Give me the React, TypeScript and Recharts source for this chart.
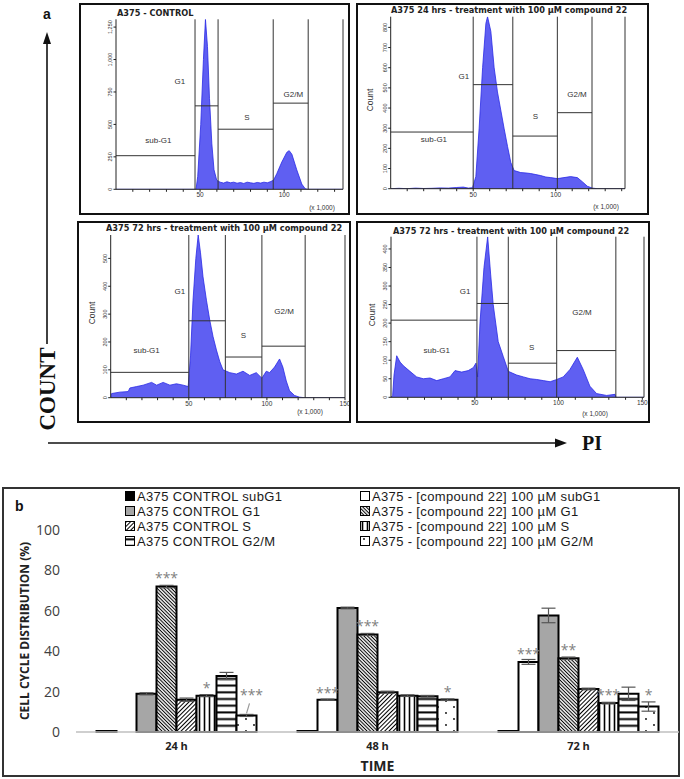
import {
  AreaChart, Area, XAxis, YAxis, ReferenceLine, ReferenceDot,
  BarChart, Bar, ErrorBar, LabelList,
} from 'recharts'

// ---------- panel a : PI histograms (x 1,000 vs count) ----------
const gateNames = ['sub-G1', 'G1', 'S', 'G2/M']
const xMinorTicks = [10, 20, 30, 40, 50, 60, 70, 80, 90, 100, 110, 120, 130, 140, 150]

// A375 control
const ctrlX = [0, 45, 47.6, 48.6, 50.4, 52, 53.2, 54.4, 55.6, 57, 58.3, 59.9, 61.9, 64, 66, 68, 70, 72, 74, 76, 78, 80, 82, 84, 86, 88, 90, 91.7, 93.7, 95.6, 98.6, 101.6, 103, 104.6, 107.5, 110.5, 112.5, 113.9, 135]
const ctrlCount = [0, 0, 0, 100, 500, 1000, 1310, 1100, 700, 350, 150, 70, 55, 48, 58, 50, 55, 47, 52, 45, 55, 50, 46, 53, 48, 55, 50, 58, 70, 120, 210, 285, 298, 270, 150, 40, 5, 0, 0]
const ctrlYTicks = [0, 250, 500, 750, 1000, 1250]
const ctrlGates = [47, 60.7, 93.5, 114.3]
const ctrlLevels = [259, 643, 463, 664]

// 24 hrs treatment
const h24X = [0, 5, 10, 15, 20, 25, 30, 35, 40, 44, 47, 49.6, 51.6, 53.6, 55.7, 57.7, 58.7, 60.7, 62.7, 64.7, 66.7, 68.7, 70.8, 72.8, 74.8, 78.8, 82, 84.9, 88, 90.9, 94, 97, 101, 105, 109, 113.1, 116.1, 119.2, 122.2, 125.2, 142]
const h24Count = [0, 2, 0, 3, 1, 2, 4, 3, 6, 8, 3, 5, 60, 300, 600, 820, 853, 780, 600, 480, 390, 300, 210, 130, 90, 80, 78, 75, 70, 65, 58, 55, 50, 55, 60, 55, 35, 12, 3, 0, 0]
const h24YTicks = [0, 100, 200, 300, 400, 500, 600, 700, 800]
const h24Gates = [50, 74, 101, 122]
const h24Levels = [281, 516, 261, 377]

// 72 hrs treatment (left)
const h72aX = [0, 0.6, 5.9, 11.2, 12.3, 16.6, 20.8, 26.2, 29.4, 33.6, 37.9, 42.1, 46.4, 49.6, 51.1, 52.7, 54.5, 56, 57.5, 59.1, 61.3, 63.4, 65.5, 67.7, 69.8, 71.9, 76.2, 80.5, 84.7, 89, 93.2, 96.8, 99.6, 101.7, 104.9, 108.1, 110.2, 112.4, 114.5, 117.7, 120.9, 124.1, 152]
const h72aCount = [0, 15, 20, 22, 35, 40, 45, 55, 45, 55, 45, 50, 45, 40, 150, 350, 500, 584, 520, 434, 350, 279, 220, 171, 130, 100, 90, 85, 95, 80, 90, 70, 95, 90, 110, 139, 110, 60, 25, 8, 2, 0, 0]
const h72aYTicks = [0, 100, 200, 300, 400, 500]
const h72aGates = [50, 73.4, 96.8, 124.5]
const h72aLevels = [91, 276, 146, 185]

// 72 hrs treatment (right)
const h72bX = [0, 1, 1.8, 3.4, 5.4, 7.4, 11.3, 15.3, 19.3, 23.3, 27.3, 31.2, 35.2, 38.2, 42.2, 46.1, 49.1, 50.7, 51.7, 53.1, 55.5, 57.7, 59.5, 61, 64, 67, 70, 75, 79, 83, 87, 90.9, 95, 98.9, 102.8, 106.8, 111.2, 114.7, 118.7, 122.7, 128.7, 133.7, 134.2, 151]
const h72bCount = [0, 5, 60, 112, 95, 85, 70, 55, 50, 52, 45, 50, 55, 72, 68, 72, 80, 92, 55, 200, 350, 433, 330, 250, 150, 110, 70, 60, 55, 50, 48, 45, 42, 48, 55, 75, 108, 75, 30, 10, 5, 8, 0, 0]
const h72bYTicks = [0, 50, 100, 150, 200, 250, 300, 350, 400]
const h72bGates = [51.3, 70, 98.9, 134.2]
const h72bLevels = [208, 253, 92, 126]

// ---------- panel b : cell cycle distribution (%) ----------
const times = ['24 h', '48 h', '72 h']
const yTicksB = [0, 20, 40, 60, 80, 100]

const ctrlSub = [0.5, 0.5, 0.5]
const trtSub = [0, 16, 34.7]
const ctrlG1 = [18.9, 61.4, 57.7]
const trtG1 = [72, 48.3, 36.5]
const ctrlS = [16, 19.7, 21.3]
const trtS = [18, 18, 14.3]
const ctrlG2M = [27.7, 17.7, 18.9]
const trtG2M = [8.2, 16, 12.6]

const ctrlSubErr = [0, 0, 0]
const trtSubErr = [0, 0.3, 1.2]
const ctrlG1Err = [0.5, 0.4, 3.6]
const trtG1Err = [0.6, 0.5, 0.6]
const ctrlSErr = [0.8, 0.5, 0.4]
const trtSErr = [0.5, 0.4, 0.4]
const ctrlG2MErr = [1.8, 0.4, 3.3]
const trtG2MErr = [0.5, 0.4, 2.3]

const trtSubStars = ['', '***', '***']
const trtG1Stars = ['***', '***', '**']
const trtSStars = ['*', '', '***']
const trtG2MStars = ['***', '*', '*']

const ctrlNames = ['A375 CONTROL subG1', 'A375 CONTROL G1', 'A375 CONTROL S', 'A375 CONTROL G2/M']
const trtNames = [
  'A375 - [compound 22] 100 µM subG1',
  'A375 - [compound 22] 100 µM G1',
  'A375 - [compound 22] 100 µM S',
  'A375 - [compound 22] 100 µM G2/M',
]

const panels = [
  {
    xs: ctrlX, counts: ctrlCount, yTicks: ctrlYTicks, gates: ctrlGates, levels: ctrlLevels,
    labelPos: [[25.2, 380], [38, 830], [77.8, 556], [105.5, 733]],
    xMax: 135, yMax: 1310,
    box: { x: 79, y: 3, w: 271, h: 212 }, plot: { l: 116, t: 19.3, r: 343, b: 189.3 },
    title: 'A375 - CONTROL', titleAt: [117, 13], titleStart: true,
    countAt: null, unitAt: [322, 208],
  },
  {
    xs: h24X, counts: h24Count, yTicks: h24YTicks, gates: h24Gates, levels: h24Levels,
    labelPos: [[26.2, 246], [44.3, 559], [87.7, 360], [112.9, 469]],
    xMax: 142, yMax: 853,
    box: { x: 356, y: 3, w: 293, h: 212 }, plot: { l: 390.7, t: 16.7, r: 625, b: 188.7 },
    title: 'A375 24 hrs - treatment with 100 µM compound 22', titleAt: [509, 9.5], titleStart: false,
    countAt: [370, 100], unitAt: [606, 207],
  },
  {
    xs: h72aX, counts: h72aCount, yTicks: h72aYTicks, gates: h72aGates, levels: h72aLevels,
    labelPos: [[23, 171], [44.3, 383], [85, 226], [111, 309]],
    xMax: 150, yMax: 584,
    box: { x: 77, y: 221, w: 274, h: 202 }, plot: { l: 110.7, t: 235, r: 345, b: 397.7 },
    title: 'A375 72 hrs - treatment with 100 µM compound 22', titleAt: [224, 227.5], titleStart: false,
    countAt: [92, 313], unitAt: [310, 412],
  },
  {
    xs: h72bX, counts: h72bCount, yTicks: h72bYTicks, gates: h72bGates, levels: h72bLevels,
    labelPos: [[27.3, 128], [44.2, 285], [84, 134], [114, 229]],
    xMax: 151, yMax: 433,
    box: { x: 356, y: 221, w: 294, h: 202 }, plot: { l: 391, t: 236.7, r: 644, b: 397.3 },
    title: 'A375 72 hrs - treatment with 100 µM compound 22', titleAt: [511, 230.5], titleStart: false,
    countAt: [372, 315], unitAt: [595, 414],
  },
]

function fmtCount(v: number) {
  if (v >= 1000) return `${Math.floor(v / 1000)},${String(v % 1000).padStart(3, '0')}`
  return String(v)
}

const RotTick = (props: any) => {
  const { x, y, payload } = props
  const tx = x - 0.5
  return (
    <text x={tx} y={y} transform={`rotate(-90 ${tx} ${y})`} textAnchor="middle" fontSize={5.5} fill="#333" fontFamily="Liberation Sans">
      {fmtCount(payload.value)}
    </text>
  )
}

function Histogram({ cfg }: { cfg: any }) {
  const { box, plot } = cfg
  const data = cfg.xs.map((x: number, i: number) => ({ x, count: cfg.counts[i] }))
  const yW = 20
  const xH = 14
  const margin = {
    left: plot.l - box.x - yW,
    top: plot.t - box.y,
    right: box.x + box.w - plot.r,
    bottom: box.y + box.h - plot.b - xH,
  }
  const small = { position: 'absolute' as const, fontFamily: 'Liberation Sans', color: '#333', whiteSpace: 'nowrap' as const, lineHeight: 1 }
  return (
    <>
      <div style={{ position: 'absolute', left: box.x, top: box.y }}>
        <AreaChart width={box.w} height={box.h} data={data} margin={margin}>
          <XAxis
            dataKey="x" type="number" domain={[0, cfg.xMax]} allowDataOverflow
            ticks={xMinorTicks.filter((t) => t <= cfg.xMax)} interval={0}
            tickFormatter={(v: number) => (v % 50 === 0 ? String(v) : '')}
            height={xH} tickSize={2.5} tickMargin={1} stroke="#222"
            tick={{ fontSize: 6.5, fill: '#333', fontFamily: 'Liberation Sans' }}
          />
          <YAxis
            type="number" domain={[0, cfg.yMax]} allowDataOverflow ticks={cfg.yTicks} interval={0}
            width={yW} tickSize={2.5} tickMargin={1} stroke="#222" tick={<RotTick />}
          />
          <Area type="linear" dataKey="count" stroke="#2a2ae6" strokeWidth={0.8} fill="#5f5ff2" fillOpacity={1} isAnimationActive={false} dot={false} activeDot={false} />
          {cfg.gates.map((g: number) => (
            <ReferenceLine key={`g${g}`} x={g} stroke="#333" strokeWidth={1} />
          ))}
          <ReferenceLine x={cfg.xMax} stroke="#333" strokeWidth={1} />
          {cfg.levels.map((lv: number, i: number) => (
            <ReferenceLine
              key={`l${i}`}
              segment={[{ x: i === 0 ? 0 : cfg.gates[i - 1], y: lv }, { x: cfg.gates[i], y: lv }]}
              stroke="#333" strokeWidth={1}
            />
          ))}
          {cfg.labelPos.map((p: number[], i: number) => (
            <ReferenceDot
              key={`n${i}`} x={p[0]} y={p[1]} r={1} fill="none" stroke="none"
              label={{ value: gateNames[i], position: 'center', fontSize: 8, fill: '#333', fontFamily: 'Liberation Sans' }}
            />
          ))}
        </AreaChart>
      </div>
      <div style={{ position: 'absolute', left: box.x, top: box.y, width: box.w, height: box.h, border: '2.5px solid #111', boxSizing: 'border-box' }} />
      <div
        style={{
          ...small, left: cfg.titleAt[0], top: cfg.titleAt[1], color: '#222',
          transform: cfg.titleStart ? 'translate(0,-50%)' : 'translate(-50%,-50%)',
          fontFamily: 'DejaVu Sans', fontWeight: 700, fontSize: 8.2,
        }}
      >
        {cfg.title}
      </div>
      {cfg.countAt && (
        <div style={{ ...small, left: cfg.countAt[0], top: cfg.countAt[1], fontSize: 8.5, transform: 'translate(-50%,-50%) rotate(-90deg)' }}>Count</div>
      )}
      <div style={{ ...small, left: cfg.unitAt[0], top: cfg.unitAt[1], fontSize: 6.5, transform: 'translate(-50%,-50%)' }}>(x 1,000)</div>
    </>
  )
}

// patterns used by the bars and the legend swatches
function PatternDefs({ p }: { p: string }) {
  return (
    <defs>
      <pattern id={`${p}-back`} width={2.5} height={2.5} patternUnits="userSpaceOnUse" patternTransform="rotate(-45)">
        <rect width={2.5} height={2.5} fill="#fff" />
        <line x1={1.25} y1={0} x2={1.25} y2={2.5} stroke="#000" strokeWidth={1.05} />
      </pattern>
      <pattern id={`${p}-fwd`} width={3} height={3} patternUnits="userSpaceOnUse" patternTransform="rotate(45)">
        <rect width={3} height={3} fill="#fff" />
        <line x1={1.5} y1={0} x2={1.5} y2={3} stroke="#000" strokeWidth={1} />
      </pattern>
      <pattern id={`${p}-vert`} width={5} height={5} patternUnits="userSpaceOnUse">
        <rect width={5} height={5} fill="#fff" />
        <line x1={2.5} y1={0} x2={2.5} y2={5} stroke="#000" strokeWidth={1.6} />
      </pattern>
      <pattern id={`${p}-horiz`} width={7} height={6.7} patternUnits="userSpaceOnUse">
        <rect width={7} height={6.7} fill="#fff" />
        <line x1={0} y1={3.3} x2={7} y2={3.3} stroke="#000" strokeWidth={2} />
      </pattern>
      <pattern id={`${p}-dots`} width={16} height={12} patternUnits="userSpaceOnUse">
        <rect width={16} height={12} fill="#fff" />
        <circle cx={4} cy={3} r={0.9} fill="#000" />
        <circle cx={12} cy={9} r={0.9} fill="#000" />
      </pattern>
    </defs>
  )
}

const series = [
  { key: 'ctrlSub', values: ctrlSub, err: ctrlSubErr, stars: null, fill: '#000', pat: '' },
  { key: 'trtSub', values: trtSub, err: trtSubErr, stars: trtSubStars, fill: '#fff', pat: '' },
  { key: 'ctrlG1', values: ctrlG1, err: ctrlG1Err, stars: null, fill: '#a6a6a6', pat: '' },
  { key: 'trtG1', values: trtG1, err: trtG1Err, stars: trtG1Stars, fill: '', pat: 'back' },
  { key: 'ctrlS', values: ctrlS, err: ctrlSErr, stars: null, fill: '', pat: 'fwd' },
  { key: 'trtS', values: trtS, err: trtSErr, stars: trtSStars, fill: '', pat: 'vert' },
  { key: 'ctrlG2M', values: ctrlG2M, err: ctrlG2MErr, stars: null, fill: '', pat: 'horiz' },
  { key: 'trtG2M', values: trtG2M, err: trtG2MErr, stars: trtG2MStars, fill: '', pat: 'dots' },
]

const barRows = times.map((t, i) => {
  const row: any = { time: t }
  series.forEach((s) => {
    row[s.key] = s.values[i]
    row[`${s.key}Err`] = s.err[i]
    row[`${s.key}Star`] = s.stars ? s.stars[i] : ''
  })
  return row
})

const fillOf = (s: any, p: string) => (s.pat ? `url(#${p}-${s.pat})` : s.fill)

const starLabel = (s: any) => (props: any) => {
  const { x, y, width, height, value, index } = props
  if (!value) return null
  const v = s.values[index] || 1
  const errPx = (height * s.err[index]) / v
  const cx = x + width / 2
  // the 24 h G2/M stars sit higher with a small pointer line
  if (s.key === 'trtG2M' && index === 0) {
    return (
      <g>
        <line x1={cx + 3} y1={y - 12} x2={cx} y2={y - 2} stroke="#999" strokeWidth={1.2} />
        <text x={cx + 5} y={y - 15} textAnchor="middle" fontSize={14} fill="#7f7f7f" fontFamily="Open Sans">{value}</text>
      </g>
    )
  }
  return (
    <text x={cx} y={y - errPx - 2} textAnchor="middle" fontSize={14} fill="#7f7f7f" fontFamily="Open Sans">{value}</text>
  )
}

function Swatch({ s, id }: { s: any; id: string }) {
  return (
    <svg width={10} height={10} style={{ marginRight: 2, flex: 'none' }}>
      <PatternDefs p={id} />
      <rect x={0.5} y={0.5} width={9} height={9} fill={fillOf(s, id)} stroke="#000" strokeWidth={1} />
    </svg>
  )
}

function LegendColumn({ left, items, names }: { left: number; items: any[]; names: string[] }) {
  return (
    <div style={{ position: 'absolute', left, top: 488.5, fontFamily: 'Liberation Sans', fontSize: 13, letterSpacing: 0.35, color: '#1a1a1a' }}>
      {items.map((s, i) => (
        <div key={s.key} style={{ display: 'flex', alignItems: 'center', height: 15, whiteSpace: 'nowrap' }}>
          <Swatch s={s} id={`lg-${s.key}`} />
          <div style={{ lineHeight: '15px', height: 15 }}>{names[i]}</div>
        </div>
      ))}
    </div>
  )
}

export default function App() {
  const ctrlItems = [series[0], series[2], series[4], series[6]]
  const trtItems = [series[1], series[3], series[5], series[7]]
  return (
    <div style={{ position: 'absolute', left: 0, top: 0, width: 684, height: 779, background: '#fff', fontFamily: 'Liberation Sans', overflow: 'hidden' }}>
      {/* panel a */}
      {panels.map((cfg, i) => (
        <Histogram key={i} cfg={cfg} />
      ))}
      <svg width={684} height={470} style={{ position: 'absolute', left: 0, top: 0, pointerEvents: 'none' }}>
        <text x={47} y={19} textAnchor="middle" fontSize={14} fontWeight={700} fontFamily="Liberation Sans" fill="#111">a</text>
        <line x1={47} y1={344} x2={47} y2={42} stroke="#111" strokeWidth={1.6} />
        <polygon points="47,32 43,44 51,44" fill="#111" />
        <text x={47} y={389} transform="rotate(-90 47 389)" textAnchor="middle" dominantBaseline="central" fontSize={23} fontWeight={700} fontFamily="Liberation Serif" fill="#111">COUNT</text>
        <line x1={48} y1={443} x2={558} y2={443} stroke="#111" strokeWidth={1.6} />
        <polygon points="567,443 555,438.5 555,447.5" fill="#111" />
        <text x={592} y={443} textAnchor="middle" dominantBaseline="central" fontSize={20} fontWeight={700} fontFamily="Liberation Serif" fill="#111">PI</text>
      </svg>

      {/* panel b */}
      <div style={{ position: 'absolute', left: 2, top: 487, width: 678, height: 290, border: '2px solid #333', boxSizing: 'border-box' }} />
      <div style={{ position: 'absolute', left: 15, top: 498, fontFamily: 'Liberation Sans', fontWeight: 700, fontSize: 14, color: '#111' }}>b</div>
      <div style={{ position: 'absolute', left: 2, top: 488 }}>
        <BarChart width={677} height={288} data={barRows} margin={{ top: 42, right: 0, left: 0, bottom: 4 }} barCategoryGap="10.2%" barGap={0}>
          <PatternDefs p="pb" />
          <XAxis
            dataKey="time" tickLine={false} stroke="#bfbfbf" strokeWidth={1.5} height={40} tickMargin={4}
            tick={{ fontSize: 11, fontWeight: 700, fill: '#222', fontFamily: 'Open Sans' }}
            label={{ value: 'TIME', position: 'insideBottom', offset: 1, fontSize: 14, fontWeight: 700, fill: '#222', fontFamily: 'Open Sans' }}
          />
          <YAxis
            domain={[0, 100]} ticks={yTicksB} interval={0} axisLine={false} tickLine={false} width={74} tickSize={0} tickMargin={16}
            tick={{ fontSize: 14, fill: '#404040', fontFamily: 'Open Sans' }}
            label={{ value: 'CELL CYCLE DISTRIBUTION (%)', angle: -90, position: 'center', dx: -14, fontSize: 12, fontWeight: 700, fill: '#222', fontFamily: 'Open Sans' }}
          />
          {series.map((s) => (
            <Bar key={s.key} dataKey={s.key} fill={fillOf(s, 'pb')} stroke="#000" strokeWidth={2} isAnimationActive={false}>
              <ErrorBar dataKey={`${s.key}Err`} width={7} stroke="#555" strokeWidth={1.2} direction="y" />
              {s.stars && <LabelList dataKey={`${s.key}Star`} content={starLabel(s)} />}
            </Bar>
          ))}
        </BarChart>
      </div>
      <LegendColumn left={125} items={ctrlItems} names={ctrlNames} />
      <LegendColumn left={360} items={trtItems} names={trtNames} />
    </div>
  )
}
